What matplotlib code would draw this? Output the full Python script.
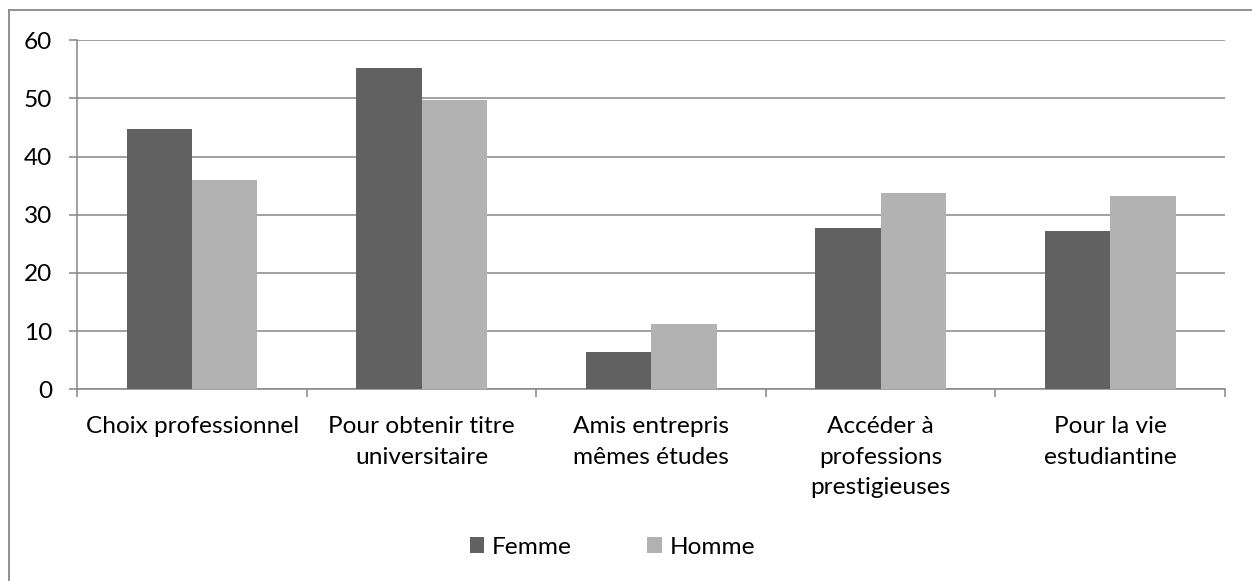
#!/usr/bin/env python3

# import modules
from matplotlib import pyplot as plt
from matplotlib.lines import Line2D
import numpy as np

# data
categories = ['Choix professionnel', 'Pour obtenir titre\nuniversitaire',
              'Amis entrepris\nmêmes études', 'Accéder à\nprofessions\nprestigieuses',
              'Pour la vie\nestudiantine']
femme = [44.7, 55.3, 6.4, 27.7, 27.3]
homme = [36.0, 49.8, 11.2, 33.7, 33.3]
series_names = ['Femme', 'Homme']
yticks = [0, 10, 20, 30, 40, 50, 60]

# style
plt.rcParams['font.family'] = ['Lato', 'DejaVu Sans']
plt.rcParams['font.size'] = 17.6
col_f = '#616161'
col_h = '#b2b2b2'
col_grid = '#868686'

fig = plt.figure(figsize=(12.52, 5.81), dpi=100)
ax = fig.add_axes([77.3 / 1252, 1 - 389.3 / 581, (1225 - 77.3) / 1252, (389.3 - 40.3) / 581])

x = np.arange(len(categories))
w = 0.285
ax.bar(x - w / 2, femme, w, color=col_f, label=series_names[0], zorder=3)
ax.bar(x + w / 2, homme, w, color=col_h, label=series_names[1], zorder=3)

ax.set_xlim(-0.5, len(categories) - 0.5)
ax.set_ylim(0, 60)
ax.set_yticks(yticks)
ax.yaxis.grid(True, color=col_grid, lw=1.1, zorder=0)
ax.set_axisbelow(True)

# category boundaries as major ticks, labels on minor ticks
ax.set_xticks(np.arange(-0.5, len(categories), 1.0))
ax.set_xticklabels([])
ax.set_xticks(x, minor=True)
ax.set_xticklabels(categories, minor=True, linespacing=1.58)
ax.tick_params(axis='x', which='major', direction='out', length=6, width=1.1, color=col_grid)
ax.tick_params(axis='x', which='minor', length=0, pad=19)
ax.tick_params(axis='y', direction='out', length=6, width=1.1, color=col_grid, pad=12)

for s in ['top', 'right']:
	ax.spines[s].set_visible(False)
for s in ['left', 'bottom']:
	ax.spines[s].set_color(col_grid)
	ax.spines[s].set_linewidth(1.1)

# legend
fig.legend(loc='center', bbox_to_anchor=(0.489, 1 - 547 / 581), ncol=2, frameon=False,
	handlelength=0.6, handleheight=0.6, handletextpad=0.3, columnspacing=3.1)

# outer chart border (left and top visible)
fig.add_artist(Line2D([8.5 / 1252, 8.5 / 1252], [0, 1 - 10 / 581], transform=fig.transFigure, color='#888888', lw=1.3))
fig.add_artist(Line2D([8.5 / 1252, 1], [1 - 10 / 581, 1 - 10 / 581], transform=fig.transFigure, color='#888888', lw=1.3))

# write to disk
fig.savefig('out.png', dpi=100)
